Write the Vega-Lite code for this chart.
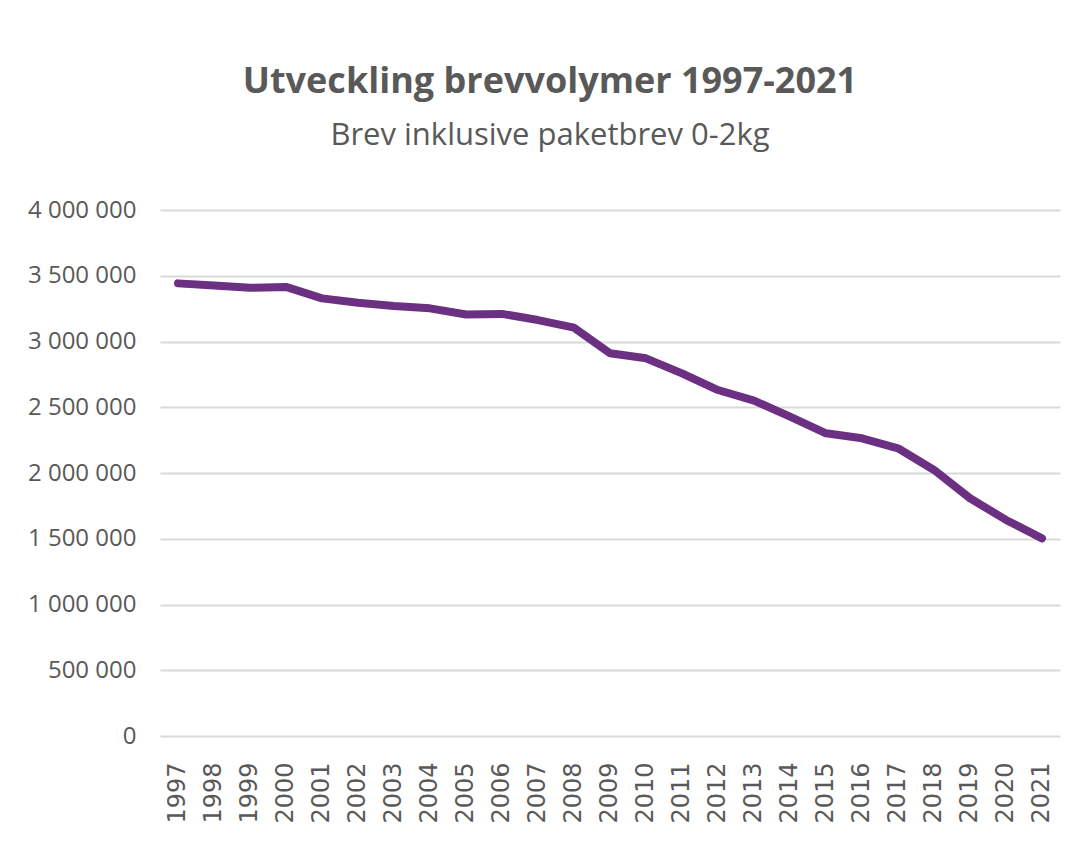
{
  "$schema": "https://vega.github.io/schema/vega-lite/v6.json",
  "width": 900,
  "height": 526,
  "autosize": {"type": "none"},
  "padding": {"left": 160, "top": 210, "right": 16, "bottom": 114},
  "background": "white",
  "config": {
    "locale": {"number": {"decimal": ",", "thousands": " ", "grouping": [3], "currency": ["", " kr"]}},
    "view": {"stroke": null}
  },
  "title": {
    "text": "Utveckling brevvolymer 1997-2021",
    "subtitle": "Brev inklusive paketbrev 0-2kg",
    "anchor": "middle",
    "frame": "group",
    "dx": -60,
    "offset": 46,
    "font": "Open Sans, sans-serif",
    "fontSize": 36,
    "fontWeight": "bold",
    "color": "#595959",
    "subtitleFont": "Open Sans, sans-serif",
    "subtitleFontSize": 31,
    "subtitleColor": "#595959",
    "subtitlePadding": 20
  },
  "data": {
    "values": [
      {"year": "1997", "volume": 3442000},
      {"year": "1998", "volume": 3425000},
      {"year": "1999", "volume": 3408000},
      {"year": "2000", "volume": 3415000},
      {"year": "2001", "volume": 3328000},
      {"year": "2002", "volume": 3295000},
      {"year": "2003", "volume": 3270000},
      {"year": "2004", "volume": 3252000},
      {"year": "2005", "volume": 3205000},
      {"year": "2006", "volume": 3210000},
      {"year": "2007", "volume": 3163000},
      {"year": "2008", "volume": 3105000},
      {"year": "2009", "volume": 2910000},
      {"year": "2010", "volume": 2872000},
      {"year": "2011", "volume": 2758000},
      {"year": "2012", "volume": 2631000},
      {"year": "2013", "volume": 2550000},
      {"year": "2014", "volume": 2428000},
      {"year": "2015", "volume": 2302000},
      {"year": "2016", "volume": 2264000},
      {"year": "2017", "volume": 2188000},
      {"year": "2018", "volume": 2023000},
      {"year": "2019", "volume": 1808000},
      {"year": "2020", "volume": 1643000},
      {"year": "2021", "volume": 1503000}
    ]
  },
  "mark": {"type": "line", "color": "#6C3083", "strokeWidth": 8, "strokeCap": "round", "strokeJoin": "round"},
  "encoding": {
    "x": {
      "field": "year",
      "type": "ordinal",
      "scale": {"type": "band", "paddingInner": 0, "paddingOuter": 0},
      "axis": {
        "title": null,
        "labelAngle": -90,
        "labelFont": "DejaVu Sans",
        "labelFontSize": 24,
        "labelColor": "#595959",
        "labelPadding": 26,
        "ticks": false,
        "domain": false,
        "grid": false
      }
    },
    "y": {
      "field": "volume",
      "type": "quantitative",
      "scale": {"domain": [0, 4000000]},
      "axis": {
        "title": null,
        "values": [0, 500000, 1000000, 1500000, 2000000, 2500000, 3000000, 3500000, 4000000],
        "format": ",d",
        "labelFont": "Open Sans, sans-serif",
        "labelFontSize": 24,
        "labelColor": "#595959",
        "labelPadding": 24,
        "ticks": false,
        "domain": false,
        "grid": true,
        "gridColor": "#D9D9D9",
        "gridWidth": 2
      }
    }
  }
}
